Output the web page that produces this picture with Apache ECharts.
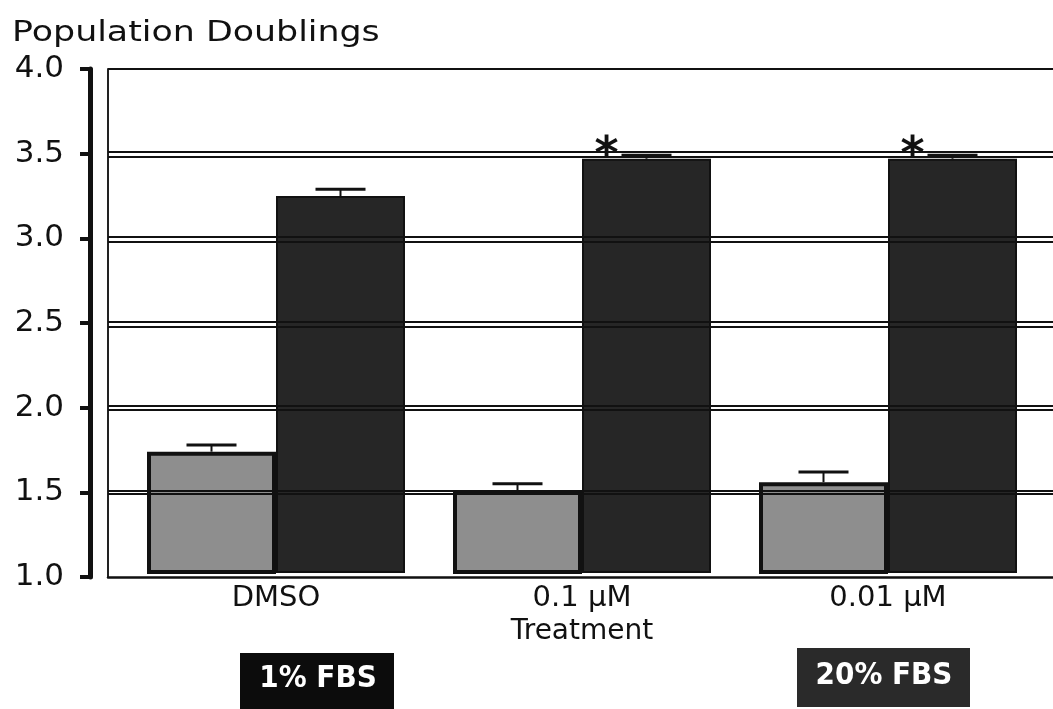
<!DOCTYPE html>
<html><head><meta charset="utf-8">
<script src="https://cdn.jsdelivr.net/npm/echarts@6/dist/echarts.min.js"></script>
<style>html,body{margin:0;padding:0;background:#fff}#c{width:1053px;height:709px}</style>
</head><body><div id="c"></div>
<script>
// ---- data ----
const categories = ['DMSO', '0.1 µM', '0.01 µM'];
const lowSerum = [1.74, 1.51, 1.56];        // 1% FBS bar tops
const lowSerumErr = [1.78, 1.55, 1.62];     // error bar caps
const highSerum = [3.25, 3.47, 3.47];       // 20% FBS bar tops
const highSerumErr = [3.29, 3.49, 3.49];
const significant = [false, true, true];
const yTicks = [1.0, 1.5, 2.0, 2.5, 3.0, 3.5, 4.0];

// ---- style ----
const BAR_W = 129;
const FONT = 'DejaVu Sans';

const chart = echarts.init(document.getElementById('c'), null, {renderer: 'canvas'});

function errRender(offset) {
  return function (params, api) {
    const i = api.value(0);
    const base = api.coord([i, api.value(1)]);
    const cap = api.coord([i, api.value(2)]);
    const x = base[0] + offset;
    const half = 25;
    const ch = [
      {type: 'line', shape: {x1: x, y1: base[1], x2: x, y2: cap[1]}, style: {stroke: '#111', lineWidth: 2}},
      {type: 'line', shape: {x1: x - half, y1: cap[1], x2: x + half, y2: cap[1]}, style: {stroke: '#111', lineWidth: 3}}
    ];
    if (api.value(3)) {
      ch.push({type: 'text', x: x - 40, y: cap[1] + 2,
        style: {text: '*', fontSize: 46, fontFamily: FONT, fontWeight: 'bold', fill: '#111', align: 'center', verticalAlign: 'middle'}});
    }
    return {type: 'group', children: ch};
  };
}

// gridline pairs (double lines) for interior ticks
const gridPairs = [];
yTicks.filter(t => t > 1.0 && t < 4.0).forEach(t => {
  gridPairs.push({yAxis: t + 0.011});
  gridPairs.push({yAxis: t - 0.015});
});
gridPairs.push({yAxis: 4.0});

const option = {
  backgroundColor: '#fff',
  animation: false,
  grid: [
    {left: 108, right: 0, top: 69, bottom: 132},
    {left: 123, width: 918, top: 69, bottom: 137}
  ],
  xAxis: [
    {gridIndex: 0, type: 'value', min: 0, max: 1, position: 'bottom',
      axisLine: {show: true, onZero: false, lineStyle: {color: '#111', width: 2.5}},
      axisTick: {show: false}, axisLabel: {show: false}, splitLine: {show: false}},
    {gridIndex: 1, type: 'category', data: categories,
      axisLine: {show: false}, axisTick: {show: false},
      axisLabel: {fontFamily: FONT, fontSize: 29, color: '#111', margin: 12},
      name: 'Treatment', nameLocation: 'middle', nameGap: 46,
      nameTextStyle: {fontFamily: FONT, fontSize: 28, color: '#111'}}
  ],
  yAxis: [
    {gridIndex: 0, type: 'value', min: 1, max: 4, interval: 0.5, position: 'left', offset: 18,
      axisLine: {show: true, onZero: false, lineStyle: {color: '#111', width: 5}},
      axisTick: {show: true, length: 10, lineStyle: {color: '#111', width: 4}},
      axisLabel: {fontFamily: FONT, fontSize: 31, color: '#111', margin: 26,
        formatter: v => v.toFixed(1)},
      splitLine: {show: false}},
    {gridIndex: 0, type: 'value', min: 1, max: 4, position: 'left', offset: 0,
      axisLine: {show: true, onZero: false, lineStyle: {color: '#222', width: 2}},
      axisTick: {show: false}, axisLabel: {show: false}, splitLine: {show: false}},
    {gridIndex: 1, type: 'value', min: 1.0294, max: 4, show: false, splitLine: {show: false}}
  ],
  series: [
    {type: 'line', xAxisIndex: 0, yAxisIndex: 0, data: [], silent: true,
      markLine: {silent: true, symbol: 'none', label: {show: false},
        lineStyle: {color: '#111', width: 1.8, type: 'solid'}, data: gridPairs}},
    {name: '1% FBS', type: 'bar', xAxisIndex: 1, yAxisIndex: 2, data: lowSerum,
      barWidth: BAR_W, barGap: '0%', z: 3,
      itemStyle: {color: '#8e8e8e', borderColor: '#111', borderWidth: 4}},
    {name: '20% FBS', type: 'bar', xAxisIndex: 1, yAxisIndex: 2, data: highSerum,
      barWidth: BAR_W, barGap: '0%', z: 3,
      itemStyle: {color: '#262626', borderColor: '#111', borderWidth: 2}},
    {type: 'custom', xAxisIndex: 1, yAxisIndex: 2, z: 4, renderItem: errRender(-BAR_W / 2),
      data: categories.map((c, i) => [i, lowSerum[i], lowSerumErr[i], 0])},
    {type: 'custom', xAxisIndex: 1, yAxisIndex: 2, z: 4, renderItem: errRender(BAR_W / 2),
      data: categories.map((c, i) => [i, highSerum[i], highSerumErr[i], significant[i] ? 1 : 0])}
  ],
  graphic: [
    {type: 'text', x: 12, y: 33, scaleX: 1.2, style: {text: 'Population Doublings', fill: '#111', fontFamily: FONT, fontSize: 29, verticalAlign: 'middle'}},
    {type: 'rect', left: 240, top: 653, shape: {width: 154, height: 60}, style: {fill: '#0c0c0c'}},
    {type: 'text', x: 318, y: 679, style: {text: '1% FBS', fill: '#fff', fontFamily: 'DejaVu Sans Condensed', fontWeight: 'bold', fontSize: 31, align: 'center', verticalAlign: 'middle'}},
    {type: 'rect', left: 797, top: 648, shape: {width: 173, height: 59}, style: {fill: '#2a2a2a'}},
    {type: 'text', x: 884, y: 676, style: {text: '20% FBS', fill: '#fff', fontFamily: 'DejaVu Sans Condensed', fontWeight: 'bold', fontSize: 31, align: 'center', verticalAlign: 'middle'}}
  ]
};
chart.setOption(option);
</script></body></html>
